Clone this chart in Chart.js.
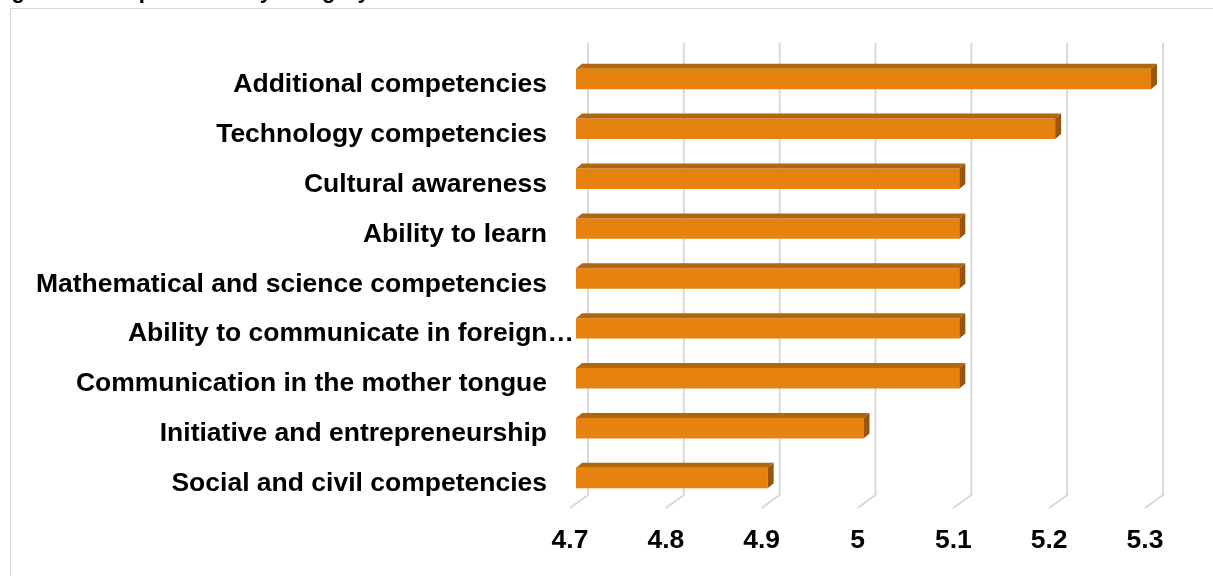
<!DOCTYPE html>
<html>
<head>
<meta charset="utf-8">
<script src="https://cdn.jsdelivr.net/npm/chart.js@4/dist/chart.umd.min.js"></script>
<style>
    html, body { margin: 0; padding: 0; background: #fff; overflow: hidden; }
    #wrap { position: relative; width: 1213px; height: 576px; }
</style>
</head>
<body>
<div id="wrap"><canvas id="myChart"></canvas></div>
<script>
// Competencies, top to bottom
const categories = [
    'Additional competencies',
    'Technology competencies',
    'Cultural awareness',
    'Ability to learn',
    'Mathematical and science competencies',
    'Ability to communicate in foreign\u2026',
    'Communication in the mother tongue',
    'Initiative and entrepreneurship',
    'Social and civil competencies'
];
const scores = [5.3, 5.2, 5.1, 5.1, 5.1, 5.1, 5.1, 5.0, 4.9];
const tickLabels = ['4.7', '4.8', '4.9', '5', '5.1', '5.2', '5.3'];
const titleText = 'Figure 2. Competencies by category';

const FONT = 'bold 26.5px "Liberation Sans", Arial, sans-serif';
const DEPTH_X = 6, DEPTH_Y = 5;

// frame, clipped title and the back-wall gridlines with floor edges
const backdrop = {
    id: 'backdrop',
    beforeDatasetsDraw(chart) {
        const c = chart.ctx, area = chart.chartArea, xs = chart.scales.x;
        c.save();
        c.strokeStyle = '#d9d9d9';
        c.lineWidth = 1;
        c.strokeRect(10.5, 8.5, 1400, 800);

        c.fillStyle = '#000';
        c.font = 'bold 22px "Liberation Sans", Arial, sans-serif';
        c.textAlign = 'left';
        c.textBaseline = 'alphabetic';
        c.fillText(titleText, -8, -2);

        c.strokeStyle = '#d9d9d9';
        c.lineWidth = 2;
        xs.ticks.forEach(function (t) {
            var x = xs.getPixelForValue(t.value) + 12;
            var yb = area.bottom - 8;
            c.beginPath();
            c.moveTo(x, area.top - 11);
            c.lineTo(x, yb);
            c.lineTo(x - 18, yb + 13);
            c.stroke();
        });
        c.restore();
    },
    afterDatasetsDraw(chart) {
        const c = chart.ctx, area = chart.chartArea;
        const xs = chart.scales.x, ys = chart.scales.y;
        c.save();
        // top and end faces of each bar
        chart.getDatasetMeta(0).data.forEach(function (bar) {
            var left = Math.max(bar.base, area.left), right = bar.x;
            var top = bar.y - bar.height / 2, bottom = bar.y + bar.height / 2;
            c.fillStyle = '#b2670f';
            c.beginPath();
            c.moveTo(left, top);
            c.lineTo(left + DEPTH_X, top - DEPTH_Y);
            c.lineTo(right + DEPTH_X, top - DEPTH_Y);
            c.lineTo(right, top);
            c.closePath();
            c.fill();
            c.fillStyle = '#97560c';
            c.beginPath();
            c.moveTo(right, top);
            c.lineTo(right + DEPTH_X, top - DEPTH_Y);
            c.lineTo(right + DEPTH_X, bottom - DEPTH_Y);
            c.lineTo(right, bottom);
            c.closePath();
            c.fill();
        });

        // category labels, the truncated one runs up to the bars
        c.fillStyle = '#000';
        c.font = FONT;
        c.textAlign = 'right';
        c.textBaseline = 'alphabetic';
        categories.forEach(function (name, i) {
            var y = ys.getPixelForTick(i) + 13;
            var x = name.endsWith('\u2026') ? area.left - 2 : area.left - 29;
            c.fillText(name, x, y);
        });

        // value axis labels on the front floor edge
        c.textAlign = 'center';
        xs.ticks.forEach(function (t, i) {
            c.fillText(tickLabels[i], xs.getPixelForValue(t.value) - 6, area.bottom + 45);
        });
        c.restore();
    }
};

const ctx = document.getElementById('myChart');
var barChart = new Chart(ctx, {
    type: 'bar',
    data: {
        labels: categories,
        datasets: [{
            label: 'Score',
            data: scores,
            backgroundColor: '#e6820f',
            borderWidth: 0,
            categoryPercentage: 1,
            barPercentage: 0.41
        }]
    },
    options: {
        indexAxis: 'y',
        responsive: true,
        maintainAspectRatio: false,
        animation: false,
        layout: { padding: { left: 568, right: 62, top: 54, bottom: 65 } },
        plugins: {
            legend: { display: false },
            tooltip: { enabled: false }
        },
        scales: {
            x: {
                min: 4.7,
                max: 5.3,
                ticks: { stepSize: 0.1, display: false },
                grid: { display: false },
                border: { display: false }
            },
            y: {
                ticks: { display: false },
                grid: { display: false },
                border: { display: false }
            }
        }
    },
    plugins: [backdrop]
});
</script>
</body>
</html>
